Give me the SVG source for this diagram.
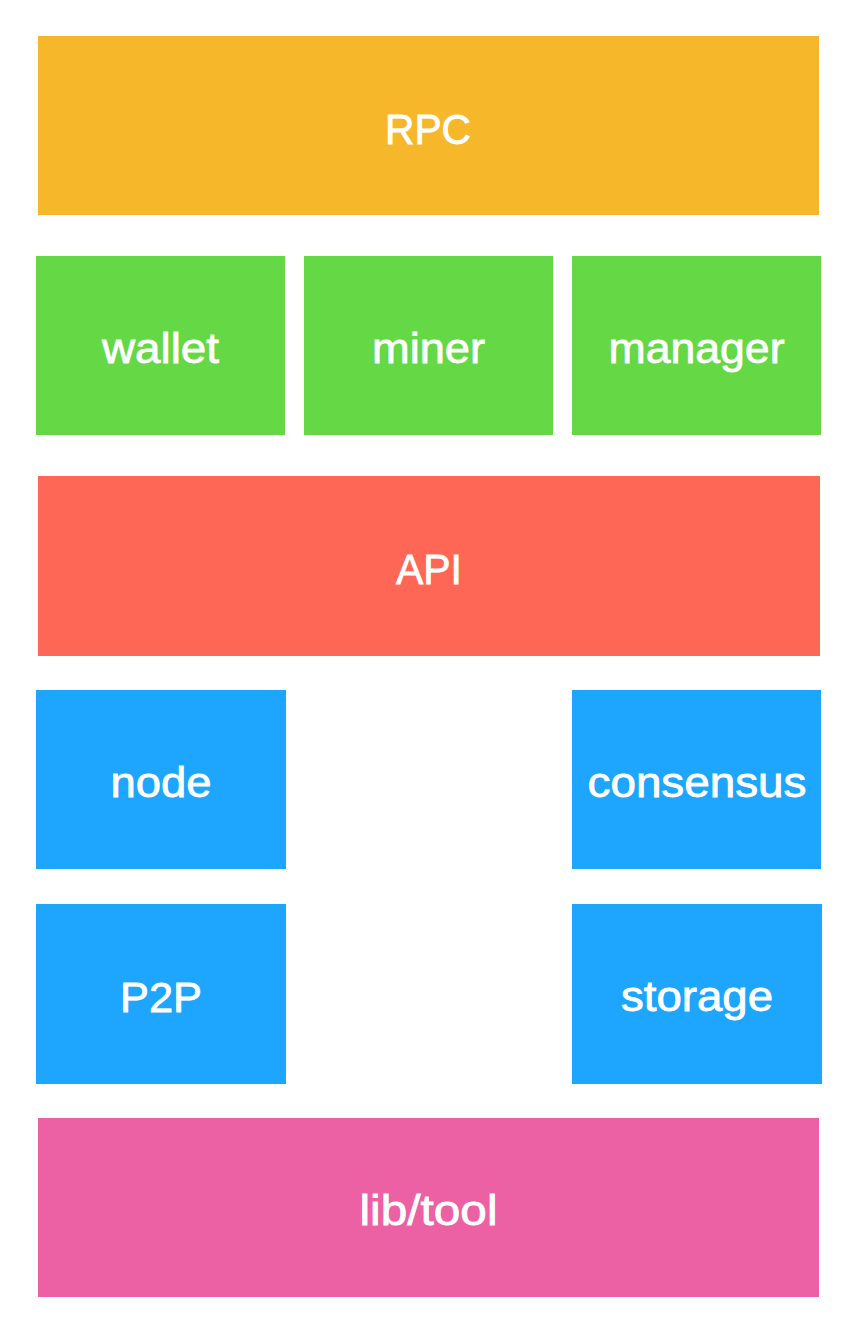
<svg xmlns="http://www.w3.org/2000/svg" width="852" height="1326" viewBox="0 0 852 1326">
<style>
text{font-family:"Liberation Sans","Helvetica Neue",Arial,sans-serif;font-size:43px;fill:#fff;stroke:#fff;stroke-width:0.8px;text-anchor:middle}
.y{fill:#F6B72B}.g{fill:#65D845}.r{fill:#FE6756}.b{fill:#1EA5FD}.p{fill:#EC61A3}
</style>
<rect width="852" height="1326" fill="#fff"/>
<g id="rpc"><rect class="y" x="38" y="36" width="781" height="179"/><text x="428" y="144" textLength="86" lengthAdjust="spacingAndGlyphs">RPC</text></g>
<g id="wallet"><rect class="g" x="36" y="256" width="249" height="179"/><text x="160.5" y="363" textLength="117" lengthAdjust="spacingAndGlyphs">wallet</text></g>
<g id="miner"><rect class="g" x="304" y="256" width="249" height="179"/><text x="428.5" y="363" textLength="113" lengthAdjust="spacingAndGlyphs">miner</text></g>
<g id="manager"><rect class="g" x="572" y="256" width="249" height="179"/><text x="696.5" y="363" textLength="176" lengthAdjust="spacingAndGlyphs">manager</text></g>
<g id="api"><rect class="r" x="38" y="476" width="782" height="180"/><text x="429" y="584" textLength="66" lengthAdjust="spacingAndGlyphs">API</text></g>
<g id="node"><rect class="b" x="36" y="690" width="250" height="179"/><text x="161" y="797" textLength="101" lengthAdjust="spacingAndGlyphs">node</text></g>
<g id="consensus"><rect class="b" x="572" y="690" width="249" height="179"/><text x="697" y="797" textLength="219" lengthAdjust="spacingAndGlyphs">consensus</text></g>
<g id="p2p"><rect class="b" x="36" y="904" width="250" height="180"/><text x="161" y="1012" textLength="82" lengthAdjust="spacingAndGlyphs">P2P</text></g>
<g id="storage"><rect class="b" x="572" y="904" width="250" height="180"/><text x="697" y="1011" textLength="152" lengthAdjust="spacingAndGlyphs">storage</text></g>
<g id="libtool"><rect class="p" x="38" y="1118" width="781" height="179"/><text x="428.5" y="1225" textLength="138" lengthAdjust="spacingAndGlyphs">lib/tool</text></g>
<g id="connectors"/>
</svg>
